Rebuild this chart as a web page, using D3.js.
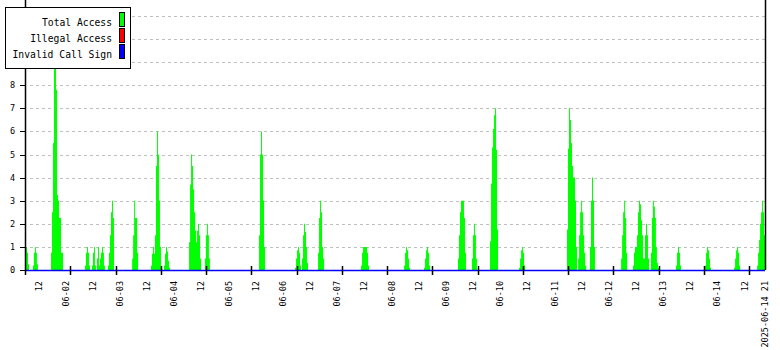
<!DOCTYPE html>
<html>
<head>
<meta charset="utf-8">
<script src="https://cdn.jsdelivr.net/npm/d3@7"></script>
<style>
  body { margin:0; background:#fff; }
  svg { display:block; font-family:"DejaVu Sans Mono", monospace; }
</style>
</head>
<body>
<div id="chart"></div>
<script>
// time span of the graph
var startTime = "2025-06-01 06:00",
    endTime = "2025-06-14 21:00",
    sampleMinutes = 26.5,   // one column of the picture
    tickEveryHours = 20;

// Total Access bursts: first sample time, then the sample values
var burstStarts = [
  "2025-06-01 06:00", "2025-06-01 09:30", "2025-06-01 17:30", "2025-06-02 08:30",
  "2025-06-02 11:35", "2025-06-02 18:40", "2025-06-03 05:20", "2025-06-03 13:40",
  "2025-06-03 19:25", "2025-06-04 06:30", "2025-06-04 13:30", "2025-06-05 13:25",
  "2025-06-06 05:20", "2025-06-06 08:25", "2025-06-06 15:30", "2025-06-07 10:30",
  "2025-06-08 05:30", "2025-06-08 14:20", "2025-06-09 05:20", "2025-06-09 11:30",
  "2025-06-09 19:30", "2025-06-10 08:20", "2025-06-11 05:30", "2025-06-11 10:25",
  "2025-06-11 15:40", "2025-06-12 05:25", "2025-06-12 10:40", "2025-06-12 18:35",
  "2025-06-13 05:40", "2025-06-13 18:30", "2025-06-14 07:20", "2025-06-14 17:30"
];
var burstValues = [
  [1.0, 1.0, 0.75, 0.25],
  [0.2, 0.75, 1.0, 0.75, 0.25],
  [0.75, 2.5, 5.5, 8.7, 8.7, 7.8, 3.25, 3.0, 2.25, 2.25, 0.75, 0.75],
  [0.2, 0.75, 1.0, 0.75, 0.2],
  [0.2, 0.75, 1.0, 0.2, 0, 0.5, 1.0, 0.2, 0.5, 0.75, 1.0, 0.75, 0.2],
  [0.2, 0.75, 1.5, 2.5, 3.0, 2.25],
  [0.5, 1.5, 3.0, 2.25, 2.25, 0.75],
  [0.2, 0.7, 1.0, 0.7, 1.5, 4.5, 6.0, 5.0, 3.0, 1.0],
  [0.2, 0.7, 1.0, 0.8, 0.4, 0.1],
  [1.2, 3.7, 5.0, 4.5, 3.5, 2.5, 1.7, 1.2, 1.7, 2.0, 1.5, 0.5],
  [0.5, 1.5, 2.0, 1.5, 0.5],
  [1.5, 5.0, 6.0, 5.0, 3.0, 1.0],
  [0.1, 0.5, 0.85, 1.0, 0.75, 0.2],
  [0.5, 1.5, 2.0, 1.65, 1.0, 0.3],
  [0.75, 2.25, 3.0, 2.5, 1.0, 0.5],
  [0.2, 0.75, 1.0, 1.0, 1.0, 1.0, 0.75, 0.2],
  [0.2, 0.75, 1.0, 0.85, 0.5, 0.1],
  [0.1, 0.5, 0.85, 1.0, 0.75, 0.2],
  [0.5, 1.5, 2.5, 3.0, 3.0, 3.0, 2.25, 0.75],
  [0.5, 1.5, 2.0, 1.5, 0.5],
  [1.25, 3.75, 5.3, 6.1, 6.7, 7.0, 5.2, 1.75],
  [0.1, 0.5, 0.85, 1.0, 0.75, 0.2],
  [1.75, 5.25, 7.0, 6.5, 5.5, 4.5, 4.0, 4.0, 3.0, 1.0],
  [0.5, 1.5, 2.5, 3.0, 2.5, 1.5, 0.75, 0.2],
  [1.0, 3.0, 4.0, 3.0, 1.0],
  [0.5, 1.5, 2.5, 3.0, 2.25, 0.75],
  [0.2, 0.75, 1.0, 1.0, 1.5, 2.5, 3.0, 2.85, 2.15, 1.5, 0.5, 0.5, 1.5, 2.0, 1.5, 0.5],
  [0.75, 2.25, 3.0, 2.75, 2.25, 1.0, 0.3, 0.1],
  [0.2, 0.75, 1.0, 0.75, 0.2],
  [0.2, 0.75, 1.0, 0.85, 0.5, 0.1],
  [0.1, 0.5, 0.85, 1.0, 0.75, 0.2],
  [0.2, 0.75, 1.3, 2.0, 2.5, 3.0, 2.5, 1.5]
];

// Illegal Access and Invalid Call Sign stay at zero the whole time
var illegalValues = [0, 0];
var invalidValues = [0, 0];

// grid lines; only 0..8 carry a label (the rest sit under the legend)
var yGrid = [1, 2, 3, 4, 5, 6, 7, 8, 9, 10, 11];
var yTicks = [0, 1, 2, 3, 4, 5, 6, 7, 8];

var xLabelTimes = [
  "2025-06-01 12:00", "2025-06-02 00:00", "2025-06-02 12:00", "2025-06-03 00:00",
  "2025-06-03 12:00", "2025-06-04 00:00", "2025-06-04 12:00", "2025-06-05 00:00",
  "2025-06-05 12:00", "2025-06-06 00:00", "2025-06-06 12:00", "2025-06-07 00:00",
  "2025-06-07 12:00", "2025-06-08 00:00", "2025-06-08 12:00", "2025-06-09 00:00",
  "2025-06-09 12:00", "2025-06-10 00:00", "2025-06-10 12:00", "2025-06-11 00:00",
  "2025-06-11 12:00", "2025-06-12 00:00", "2025-06-12 12:00", "2025-06-13 00:00",
  "2025-06-13 12:00", "2025-06-14 00:00", "2025-06-14 12:00", "2025-06-14 21:00"
];
var xLabels = [
  "12", "06-02", "12", "06-03", "12", "06-04", "12", "06-05", "12", "06-06",
  "12", "06-07", "12", "06-08", "12", "06-09", "12", "06-10", "12", "06-11",
  "12", "06-12", "12", "06-13", "12", "06-14", "12", "2025-06-14 21"
];

var seriesNames = ["Total Access", "Illegal Access", "Invalid Call Sign"];
var seriesColors = ["#00ff00", "#ff0000", "#0000ff"];

var w = 780, h = 350,
    m = {t:4.4, r:15, b:80, l:25};

var parse = d3.timeParse("%Y-%m-%d %H:%M");
var t0 = parse(startTime), t1 = parse(endTime);

var x = d3.scaleTime().domain([t0, t1]).range([m.l, w - m.r]);
var y = d3.scaleLinear().domain([0, 11.5]).range([h - m.b, m.t]);

var svg = d3.select("#chart").append("svg")
    .attr("width", w)
    .attr("height", h);

// grid
svg.append("g").selectAll("line")
    .data(yGrid)
    .enter().append("line")
    .attr("x1", m.l + 5).attr("x2", w - m.r)
    .attr("y1", function(d){ return Math.round(y(d)) + 0.5; })
    .attr("y2", function(d){ return Math.round(y(d)) + 0.5; })
    .style("stroke", "#c0c0c0")
    .style("stroke-dasharray", "3,3");

// y ticks and labels
var yt = svg.append("g").selectAll("g")
    .data(yTicks)
    .enter().append("g")
    .attr("transform", function(d){ return "translate(0," + (Math.round(y(d)) + 0.5) + ")"; });
yt.append("line")
    .attr("x1", 20).attr("x2", m.l)
    .style("stroke", "#000");
yt.append("text")
    .text(function(d){ return d; })
    .attr("x", 15)
    .attr("dy", "0.35em")
    .style("text-anchor", "end")
    .style("font-size", "8.5px");

// Total Access bursts as steps
var area = d3.area()
    .curve(d3.curveStepAfter)
    .x(function(d){ return x(d.t); })
    .y0(y(0))
    .y1(function(d){ return y(d.v); });

var bursts = burstStarts.map(function(s, i){
    var b = parse(s);
    var pts = burstValues[i].map(function(v, j){
        return {t: new Date(+b + j * sampleMinutes * 60000), v: v};
    });
    pts.push({t: new Date(+b + burstValues[i].length * sampleMinutes * 60000), v: 0});
    return pts;
});

svg.append("g").selectAll("path")
    .data(bursts)
    .enter().append("path")
    .attr("d", area)
    .style("fill", seriesColors[0])
    .style("stroke", "none");

// zero series
var line = d3.line()
    .x(function(d, i){ return i ? x(t1) : x(t0); })
    .y(function(d){ return Math.round(y(d)) + 0.5; });

svg.append("path").attr("d", line(illegalValues))
    .style("fill", "none").style("stroke", seriesColors[1]).style("stroke-width", 1);
svg.append("path").attr("d", line(invalidValues))
    .style("fill", "none").style("stroke", seriesColors[2]).style("stroke-width", 1.5);

// axes frame
svg.append("line")
    .attr("x1", m.l + 0.5).attr("x2", m.l + 0.5)
    .attr("y1", 0).attr("y2", h - m.b + 5)
    .style("stroke", "#000").style("stroke-width", 1.5);
svg.append("line")
    .attr("x1", w - m.r + 0.5).attr("x2", w - m.r + 0.5)
    .attr("y1", 0).attr("y2", h - m.b)
    .style("stroke", "#000").style("stroke-width", 1.5);

// x ticks every 20 hours
var tickTimes = d3.range(1, Math.floor((t1 - t0) / 3600000 / tickEveryHours) + 1)
    .map(function(k){ return new Date(+t0 + k * tickEveryHours * 3600000); });

svg.append("g").selectAll("line")
    .data(tickTimes)
    .enter().append("line")
    .attr("x1", function(d){ return Math.round(x(d)) + 0.5; })
    .attr("x2", function(d){ return Math.round(x(d)) + 0.5; })
    .attr("y1", h - m.b - 4)
    .attr("y2", h - m.b + 5)
    .style("stroke", "#000").style("stroke-width", 1.5);

// x labels, vertical
svg.append("g").selectAll("text")
    .data(xLabelTimes)
    .enter().append("text")
    .text(function(d, i){ return xLabels[i]; })
    .attr("transform", function(d){
        return "translate(" + x(parse(d)) + "," + (h - m.b + 11) + ") rotate(-90)";
    })
    .attr("dy", "0.35em")
    .style("text-anchor", "end")
    .style("font-size", "8.5px");

// legend
var leg = svg.append("g");
leg.append("rect")
    .attr("x", 5.5).attr("y", 7.5)
    .attr("width", 125).attr("height", 61)
    .style("fill", "#fff").style("stroke", "#000");

var items = leg.selectAll(".item")
    .data(seriesNames)
    .enter().append("g")
    .attr("class", "item")
    .attr("transform", function(d, i){ return "translate(0," + (i * 16) + ")"; });
items.append("text")
    .text(function(d){ return d; })
    .attr("x", 112).attr("y", 25.5)
    .attr("textLength", function(d){ return d.length * 5.9 - 0.8; })
    .attr("lengthAdjust", "spacingAndGlyphs")
    .style("text-anchor", "end")
    .style("font-size", "11px");
items.append("rect")
    .attr("x", 119.5).attr("y", 12.5)
    .attr("width", 5).attr("height", 14)
    .style("fill", function(d, i){ return seriesColors[i]; })
    .style("stroke", "#000");
</script>
</body>
</html>
